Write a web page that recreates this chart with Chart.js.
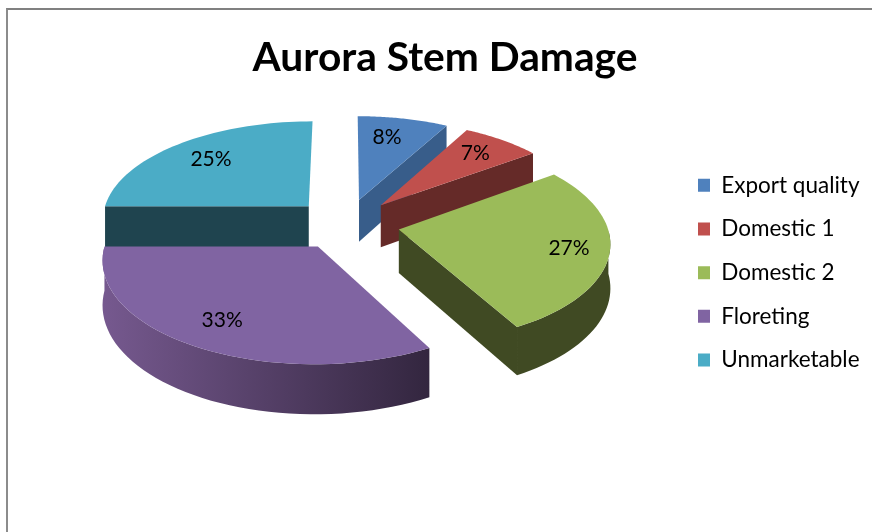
<!DOCTYPE html>
<html>
<head>
<meta charset="utf-8">
<style>
    html, body { margin: 0; padding: 0; background: #fff; overflow: hidden; }
    #frame { position: absolute; left: 6px; top: 8px; right: 0; bottom: 0; border-left: 2px solid #8c8c8c; border-top: 2px solid #808080; }
    #chart { position: absolute; left: 0; top: 0; }
</style>
</head>
<body>
<div id="frame"></div>
<canvas id="chart" width="872" height="532"></canvas>
<script src="https://cdn.jsdelivr.net/npm/chart.js@4"></script>
<script>
const categories = ['Export quality', 'Domestic 1', 'Domestic 2', 'Floreting', 'Unmarketable'];
const shares = [8, 7, 27, 33, 25];
const topColors = ['#4F81BD', '#C0504D', '#9BBB59', '#8064A2', '#4BACC6'];
const wallStart = ['#385D8A', '#652A28', '#404A23', '#76598F', '#1F444F'];
const wallEnd = ['#385D8A', '#652A28', '#404A23', '#33263F', '#1F444F'];
const labelReach = [0.66, 0.67, 0.82, 0.85, 0.67];
const labelNudge = [[-2, -7], [11, -7], [-2, 0], [8, -9], [-8, -5]];

// view of the tilted pie, in px per pie radius
const view = { cx: 346, cy: 224, sx: 208, sy: 98.6, persp: 0.115, depth: 43 };

function project(x, y) {
    const s = 1 / (1 - view.persp * y);
    return { x: view.cx + view.sx * x * s, y: view.cy + view.sy * y * s, s: s };
}

function sliceOutline(arc) {
    const mid = (arc.startAngle + arc.endAngle) / 2;
    const push = arc.options.offset / 4 / arc.outerRadius;
    const ax = Math.cos(mid) * push;
    const ay = Math.sin(mid) * push;
    const apex = project(ax, ay);
    const rim = [];
    const front = [];
    const steps = 48;
    for (let i = 0; i <= steps; i++) {
        const a = arc.startAngle + (arc.endAngle - arc.startAngle) * i / steps;
        const p = project(ax + Math.cos(a), ay + Math.sin(a));
        rim.push(p);
        // only the near part of the rim has a visible wall
        if (Math.sin(a) > -0.02) front.push(p);
    }
    return { apex, rim, front, ax, ay, mid };
}

function fillWall(ctx, pts) {
    ctx.beginPath();
    pts.forEach((p, k) => k ? ctx.lineTo(p.x, p.y) : ctx.moveTo(p.x, p.y));
    pts.slice().reverse().forEach(p => ctx.lineTo(p.x, p.y + view.depth * p.s));
    ctx.closePath();
    ctx.fill();
}

// a cut face only shows when it clearly turns towards the viewer
function facesViewer(apex, end, inner) {
    const dx = end.x - apex.x;
    const dy = end.y - apex.y;
    let nx = -dy;
    let ny = dx;
    if (nx * (inner.x - apex.x) + ny * (inner.y - apex.y) > 0) {
        nx = -nx;
        ny = -ny;
    }
    return ny / Math.hypot(nx, ny) > 0.1;
}

const pie3d = {
    id: 'pie3d',
    afterLayout(chart) {
        // move the legend to where the original has it
        const legend = chart.legend;
        const pad = legend.options.labels.padding;
        legend.left = 698 - pad;
        legend.top = 174 - pad;
    },
    beforeDatasetsDraw(chart) {
        const ctx = chart.ctx;
        const arcs = chart.getDatasetMeta(0).data.map((arc, i) => ({ i, shape: sliceOutline(arc) }));
        // far slices first
        arcs.sort((a, b) => a.shape.ay - b.shape.ay);

        arcs.forEach(({ i, shape }) => {
            const { apex, rim, front } = shape;
            const inner = rim[Math.floor(rim.length / 2)];
            const last = rim[rim.length - 1];
            const xs = rim.map(p => p.x).concat(apex.x);
            const grad = ctx.createLinearGradient(Math.min(...xs), 0, Math.max(...xs), 0);
            grad.addColorStop(0, wallStart[i]);
            grad.addColorStop(1, wallEnd[i]);
            ctx.fillStyle = grad;
            if (facesViewer(apex, rim[0], inner)) fillWall(ctx, [apex, rim[0]]);
            if (facesViewer(apex, last, inner)) fillWall(ctx, [apex, last]);
            if (front.length > 1) fillWall(ctx, front);

            ctx.fillStyle = topColors[i];
            ctx.beginPath();
            ctx.moveTo(apex.x, apex.y);
            rim.forEach(p => ctx.lineTo(p.x, p.y));
            ctx.closePath();
            ctx.fill();
        });

        ctx.fillStyle = '#000';
        ctx.font = '21px Lato';
        ctx.textAlign = 'center';
        ctx.textBaseline = 'middle';
        arcs.forEach(({ i, shape }) => {
            const r = labelReach[i];
            const p = project(shape.ax + Math.cos(shape.mid) * r, shape.ay + Math.sin(shape.mid) * r);
            ctx.fillText(shares[i] + '%', p.x + labelNudge[i][0], p.y + labelNudge[i][1]);
        });
        return false;
    }
};

new Chart(document.getElementById('chart').getContext('2d'), {
    type: 'pie',
    data: {
        labels: categories,
        datasets: [{
            data: shares,
            backgroundColor: topColors,
            borderWidth: 0,
            offset: 150
        }]
    },
    options: {
        responsive: false,
        animation: false,
        layout: { padding: { left: 18, right: 0, top: 33, bottom: 0 } },
        plugins: {
            tooltip: { enabled: false },
            title: {
                display: true,
                text: 'Aurora Stem Damage',
                color: '#000',
                font: { family: 'Lato', size: 40.7, weight: '700' },
                padding: { top: 0, bottom: 10 }
            },
            legend: {
                position: 'right',
                align: 'start',
                labels: {
                    color: '#000',
                    font: { family: 'Lato', size: 22.5 },
                    boxWidth: 12,
                    boxHeight: 13,
                    padding: 21.2
                }
            }
        }
    },
    plugins: [pie3d]
});
</script>
</body>
</html>
